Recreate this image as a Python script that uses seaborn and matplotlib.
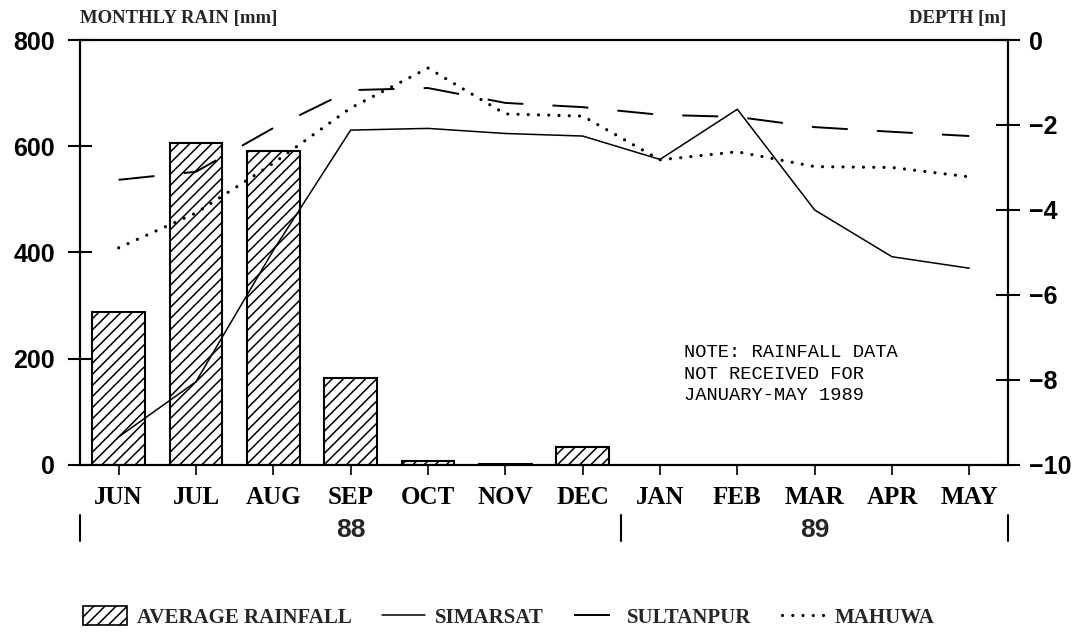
import numpy as np
import pandas as pd
import matplotlib
matplotlib.use("Agg")
import matplotlib.pyplot as plt
import seaborn as sns
from matplotlib.patches import Patch
from matplotlib.lines import Line2D

# ---- data -------------------------------------------------------------
months = ["JUN", "JUL", "AUG", "SEP", "OCT", "NOV", "DEC",
          "JAN", "FEB", "MAR", "APR", "MAY"]
rain_months = ["JUN", "JUL", "AUG", "SEP", "OCT", "NOV", "DEC"]
rain_mm = [288, 606, 591, 164, 8, 1, 34]

simarsat = [-9.34, -8.04, -4.95, -2.12, -2.08, -2.20, -2.26,
            -2.81, -1.63, -4.00, -5.10, -5.37]
sultanpur = [-3.29, -3.10, -2.07, -1.18, -1.13, -1.48, -1.58,
             -1.76, -1.81, -2.05, -2.16, -2.26]
mahuwa = [-4.89, -4.07, -2.90, -1.60, -0.66, -1.74, -1.79,
          -2.82, -2.63, -2.98, -3.00, -3.22]

years = ["88", "89"]
year_sizes = [7, 5]
rain_ticks = [0, 200, 400, 600, 800]
depth_ticks = [0, -2, -4, -6, -8, -10]
note_lines = ["NOTE: RAINFALL DATA", "NOT RECEIVED FOR", "JANUARY-MAY 1989"]

# ---- style ------------------------------------------------------------
sns.set_theme(style="white")
plt.rcParams["font.family"] = ["Liberation Serif", "DejaVu Serif"]
plt.rcParams["hatch.linewidth"] = 1.1
plt.rcParams["hatch.color"] = "black"

SERIF = "Liberation Serif"
SANS = "Liberation Sans"
MONO = "Liberation Mono"

SIM_STYLE = dict(color="black", linewidth=1.1)
SUL_STYLE = dict(color="black", linewidth=1.4, linestyle=(0, (18.5, 15.0)))
MAH_STYLE = dict(color="black", linewidth=2.3, linestyle=(0, (0.01, 3.2)),
                 dash_capstyle="round")

fig = plt.figure(figsize=(10.84, 6.34), dpi=100)
fig.patch.set_facecolor("white")
ax = fig.add_axes([0.0738, 0.2666, 0.8561, 0.6703])

# ---- rainfall bars ----------------------------------------------------
rain_df = pd.DataFrame({"month": rain_months, "rain": rain_mm})
sns.barplot(data=rain_df, x="month", y="rain", order=months, ax=ax,
            color="white", edgecolor="black", linewidth=1.5, width=0.68,
            hatch="///", errorbar=None, saturation=1)
ax.set_xlim(-0.5, len(months) - 0.5)
ax.set_ylim(0, 800)
ax.set_xlabel("")
ax.set_ylabel("")

# ---- water table depth lines -----------------------------------------
ax2 = ax.twinx()
xpos = np.arange(len(months))
sns.lineplot(x=xpos, y=simarsat, ax=ax2, **SIM_STYLE)
sns.lineplot(x=xpos, y=sultanpur, ax=ax2, **SUL_STYLE)
sns.lineplot(x=xpos, y=mahuwa, ax=ax2, **MAH_STYLE)
ax2.set_ylim(-10, 0)
ax2.set_xlim(-0.5, len(months) - 0.5)
ax2.set_xlabel("")
ax2.set_ylabel("")
ax2.grid(False)
ax.grid(False)

# ---- axes, ticks --------------------------------------------------------
for a in (ax, ax2):
    for sp in a.spines.values():
        sp.set_visible(True)
        sp.set_color("black")
        sp.set_linewidth(1.5)

ax.set_yticks(rain_ticks)
ax.set_yticklabels([str(t) for t in rain_ticks], fontfamily=SANS,
                   fontweight="bold", fontsize=18)
ax.tick_params(axis="y", left=True, right=False, direction="inout",
               length=17, width=1.5, pad=9.5, colors="black")

ax2.set_yticks(depth_ticks)
ax2.set_yticklabels(["0" if t == 0 else "\u2212" + str(abs(t)) for t in depth_ticks],
                    fontfamily=SANS, fontweight="bold", fontsize=18)
ax2.tick_params(axis="y", right=True, left=False, direction="inout",
                length=17, width=1.5, pad=6.6, colors="black")

ax.set_xticks(xpos)
ax.set_xticklabels(months, fontfamily=SERIF, fontweight="bold", fontsize=18)
ax.tick_params(axis="x", bottom=True, top=False, direction="out",
               length=7, width=1.2, pad=8, colors="black")
ax2.tick_params(axis="x", bottom=False, top=False)

# ---- year brackets under the month labels ------------------------------
xt = ax.get_xaxis_transform()
bounds = np.concatenate([[0], np.cumsum(year_sizes)]) - 0.5
for b in bounds:
    ax.plot([b, b], [-0.118, -0.178], transform=xt, clip_on=False,
            color="black", linewidth=1.5)
for i, yr in enumerate(years):
    mid = (bounds[i] + bounds[i + 1]) / 2
    ax.text(mid, -0.153, yr, transform=xt, ha="center", va="center",
            fontfamily=SANS, fontweight="bold", fontsize=19)

# ---- axis titles ------------------------------------------------------
fig.text(80 / 1084, 1 - 18 / 634, "MONTHLY RAIN [mm]", ha="left", va="center",
         fontfamily=SERIF, fontweight="bold", fontsize=13.5)
fig.text(1006 / 1084, 1 - 18 / 634, "DEPTH [m]", ha="right", va="center",
         fontfamily=SERIF, fontweight="bold", fontsize=13.5)

# ---- note -------------------------------------------------------------
ax.text(0.651, 0.284, "\n".join(note_lines), transform=ax.transAxes,
        ha="left", va="top", fontfamily=MONO, fontsize=13.5, linespacing=1.34,
        color="black")

# ---- legend -----------------------------------------------------------
handles = [
    Patch(facecolor="white", edgecolor="black", hatch="///", linewidth=1.2),
    Line2D([], [], **SIM_STYLE),
    Line2D([], [], **SUL_STYLE),
    Line2D([], [], **MAH_STYLE),
]
labels = ["AVERAGE RAINFALL", "SIMARSAT", "SULTANPUR", "MAHUWA"]
fig.legend(handles, labels, loc="center", bbox_to_anchor=(0.4696, 1 - 617 / 634),
           ncol=4, frameon=False, handlelength=2.1, handleheight=1.0,
           handletextpad=0.45, columnspacing=1.45,
           prop={"family": SERIF, "weight": "bold", "size": 15})

fig.savefig("out.png", dpi=100, facecolor="white")
